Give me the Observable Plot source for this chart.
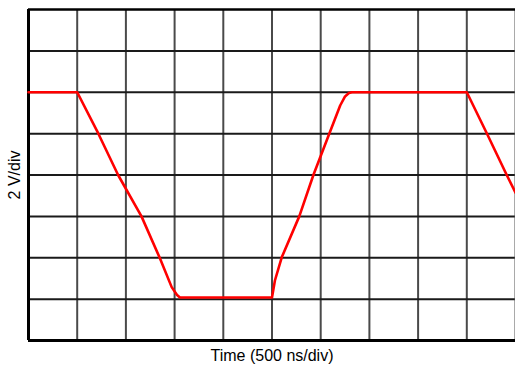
<!DOCTYPE html>
<html>
<head>
<meta charset="utf-8">
<script src="https://cdn.jsdelivr.net/npm/d3@7"></script>
<script src="https://cdn.jsdelivr.net/npm/@observablehq/plot@0.6"></script>
<style>
  html, body { margin: 0; padding: 0; background: #fff; }
  svg { display: block; }
</style>
</head>
<body>
<div id="chart"></div>
<script>
// Trace, in divisions (x: 500 ns/div, y: 2 V/div)
const traceX = [0, 1.0, 1.43, 1.84, 2.32, 2.69, 2.94, 3.05, 3.11, 5.0, 5.06, 5.2, 5.56, 5.85, 6.18, 6.4, 6.5, 6.58, 6.64, 9.0, 9.41, 9.82, 10.0];
const traceY = [2.0, 2.0, 1.01, 0.0, -1.0, -1.99, -2.71, -2.9, -2.96, -2.96, -2.55, -1.99, -1.0, 0.0, 1.01, 1.68, 1.9, 1.98, 2.0, 2.0, 1.01, 0.0, -0.43];
const xGrid = [1, 2, 3, 4, 5, 6, 7, 8, 9];
const yGrid = [-3, -2, -1, 0, 1, 2, 3];
const xLabel = "Time (500 ns/div)";
const yLabel = "2 V/div";

const trace = traceX.map((x, i) => ({x, y: traceY[i]}));

const chart = Plot.plot({
  width: 515,
  height: 366,
  marginLeft: 28,
  marginRight: 0,
  marginTop: 9,
  marginBottom: 26,
  x: {domain: [0, 10], axis: null},
  y: {domain: [-4, 4], axis: null},
  style: {fontFamily: "Arial, 'Liberation Sans', sans-serif", background: "#fff"},
  marks: [
    Plot.ruleX(xGrid, {stroke: "#4a4a4a", strokeWidth: 2}),
    Plot.ruleY(yGrid, {stroke: "#1a1a1a", strokeWidth: 2}),
    Plot.ruleX([10], {stroke: "#555", strokeWidth: 2}),
    Plot.ruleY([4], {stroke: "#000", strokeWidth: 2.5}),
    Plot.ruleX([0], {stroke: "#000", strokeWidth: 3}),
    Plot.ruleY([-4], {stroke: "#000", strokeWidth: 3}),
    Plot.line(trace, {x: "x", y: "y", stroke: "#ff0000", strokeWidth: 2.6, curve: "linear"}),
    Plot.text([yLabel], {frameAnchor: "left", dx: -14, rotate: -90, textAnchor: "middle", lineAnchor: "middle", fontSize: 16, fill: "#000"}),
    Plot.text([xLabel], {frameAnchor: "bottom", dy: 15, textAnchor: "middle", lineAnchor: "middle", fontSize: 16, fill: "#000"})
  ]
});
document.getElementById("chart").append(chart);
</script>
</body>
</html>
